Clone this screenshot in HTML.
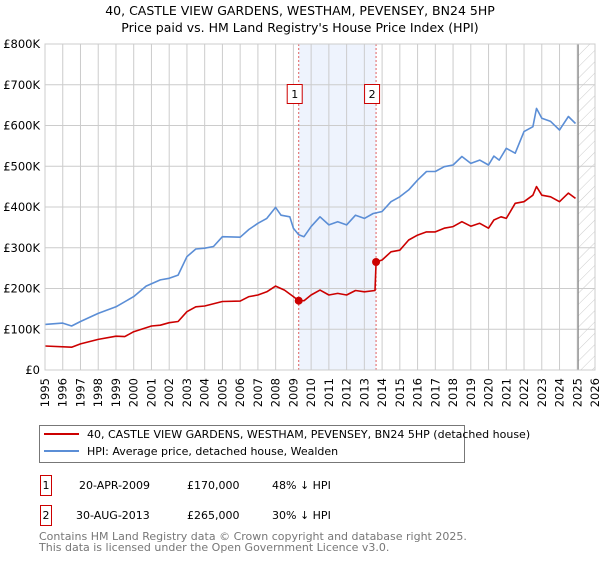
<!DOCTYPE html>
<html><head><meta charset="utf-8"><style>
body{margin:0;background:#fff;font-family:"Liberation Sans","DejaVu Sans",sans-serif;}
svg text{font-family:"DejaVu Sans","Liberation Sans",sans-serif;}
</style></head><body>
<svg id="c" width="600" height="560" xmlns="http://www.w3.org/2000/svg">
<defs><pattern id="hatch" width="8" height="8" patternUnits="userSpaceOnUse" patternTransform="rotate(45)"><line x1="0" y1="0" x2="0" y2="8" stroke="#ccc" stroke-width="1"/></pattern></defs>
<text x="300" y="15" text-anchor="middle" font-size="12.5">40, CASTLE VIEW GARDENS, WESTHAM, PEVENSEY, BN24 5HP</text>
<text x="300" y="32" text-anchor="middle" font-size="12.5">Price paid vs. HM Land Registry's House Price Index (HPI)</text>
<g id="plot"></g>
<g>
<rect x="39.5" y="425.5" width="425" height="37" fill="#fff" stroke="#777"/>
<line x1="44" y1="434" x2="79" y2="434" stroke="#cc0000" stroke-width="2"/>
<text x="87" y="438" font-size="11">40, CASTLE VIEW GARDENS, WESTHAM, PEVENSEY, BN24 5HP (detached house)</text>
<line x1="44" y1="451" x2="79" y2="451" stroke="#5b8ed6" stroke-width="2"/>
<text x="87" y="455" font-size="11">HPI: Average price, detached house, Wealden</text>
</g>
<g font-size="11">
<rect x="40.5" y="475.5" width="11" height="20" fill="#fff" stroke="#cc0000"/>
<text x="46" y="489" text-anchor="middle">1</text>
<text x="79" y="489">20-APR-2009</text>
<text x="187" y="489">£170,000</text>
<text x="272" y="489">48% ↓ HPI</text>
<rect x="40.5" y="505.5" width="11" height="20" fill="#fff" stroke="#cc0000"/>
<text x="46" y="519" text-anchor="middle">2</text>
<text x="76" y="519">30-AUG-2013</text>
<text x="187" y="519">£265,000</text>
<text x="272" y="519">30% ↓ HPI</text>
</g>
<text x="39" y="540" font-size="11" fill="#777">Contains HM Land Registry data © Crown copyright and database right 2025.</text>
<text x="39" y="551" font-size="11" fill="#777">This data is licensed under the Open Government Licence v3.0.</text>
</svg>
<script>
const hpiYears=[1995,1996,1996.5,1997,1998,1999,2000,2000.7,2001.5,2002,2002.5,2003,2003.5,2004,2004.5,2005,2006,2006.5,2007,2007.5,2008,2008.3,2008.8,2009,2009.3,2009.6,2010,2010.5,2011,2011.5,2012,2012.5,2013,2013.5,2014,2014.5,2015,2015.5,2016,2016.5,2017,2017.5,2018,2018.5,2019,2019.5,2020,2020.3,2020.6,2021,2021.5,2022,2022.5,2022.7,2023,2023.5,2024,2024.5,2024.9];
const hpiValues=[112,115,108,119,139,155,180,206,221,225,233,278,297,299,303,327,326,345,360,372,399,380,376,348,332,327,352,376,356,364,356,380,372,384,389,413,425,442,466,487,487,499,503,524,507,515,503,525,515,544,532,585,597,642,618,610,589,622,605];
const propYears=[1995,1996.5,1997,1998,1999,1999.5,2000,2001,2001.5,2002,2002.5,2003,2003.5,2004,2005,2006,2006.5,2007,2007.5,2008,2008.5,2009,2009.3,2009.6,2010,2010.5,2011,2011.5,2012,2012.5,2013,2013.6,2013.66,2014,2014.5,2015,2015.5,2016,2016.5,2017,2017.5,2018,2018.5,2019,2019.5,2020,2020.3,2020.7,2021,2021.5,2022,2022.5,2022.7,2023,2023.5,2024,2024.5,2024.9];
const propValues=[59,56,64,75,83,82,94,108,110,116,119,143,155,157,168,169,180,184,192,206,196,180,170,170,184,196,184,188,184,195,192,195,265,270,290,294,319,331,339,339,348,352,364,353,360,348,368,376,372,409,413,429,450,429,425,413,434,421];
const saleYears=[2009.3,2013.66];
const saleValues=[170,265];
const saleLabels=["1","2"];
const yTicks=[0,100,200,300,400,500,600,700,800];
const yTickLabels=["£0","£100K","£200K","£300K","£400K","£500K","£600K","£700K","£800K"];
const xTicks=[1995,1996,1997,1998,1999,2000,2001,2002,2003,2004,2005,2006,2007,2008,2009,2010,2011,2012,2013,2014,2015,2016,2017,2018,2019,2020,2021,2022,2023,2024,2025,2026];
const dataEnd=2025.05;

const L=45,R=595,T=44,B=370,X0=1995,X1=2026,Y1=800;
const xs=v=>L+(v-X0)/(X1-X0)*(R-L);
const ys=v=>B-v/Y1*(B-T);
const NS="http://www.w3.org/2000/svg";
const g=document.getElementById('plot');
function mk(tag,attrs,parent){const e=document.createElementNS(NS,tag);for(const k in attrs)e.setAttribute(k,attrs[k]);(parent||g).appendChild(e);return e;}

let e=mk('rect',{x:xs(saleYears[0]),y:T,width:xs(saleYears[1])-xs(saleYears[0]),height:B-T,fill:'#eef3fd'});


e=mk('rect',{x:xs(dataEnd),y:T,width:R-xs(dataEnd),height:B-T,fill:'url(#hatch)'});



xTicks.forEach((t,i)=>{
  const l=mk('line',{x1:xs(t),x2:xs(t),y1:T,y2:B,stroke:'#ccc','stroke-width':1});
  
  
  const tx=mk('text',{x:0,y:0,'font-size':11.5,'text-anchor':'end',transform:`translate(${xs(t)+4},${B+8}) rotate(-90)`});
  tx.textContent=t;
  
  
});
yTicks.forEach((t,i)=>{
  const l=mk('line',{x1:L,x2:R,y1:ys(t),y2:ys(t),stroke:'#ccc','stroke-width':1});
  
  
  const tx=mk('text',{x:L-5,y:ys(t)+4,'font-size':11.5,'text-anchor':'end'});
  tx.textContent=yTickLabels[i];
  
  
});
e=mk('line',{x1:xs(dataEnd),x2:xs(dataEnd),y1:T,y2:B,stroke:'#888','stroke-width':1.2});



saleYears.forEach((s,i)=>{
  const l=mk('line',{x1:xs(s),x2:xs(s),y1:T,y2:B,stroke:'#e06060','stroke-width':1,'stroke-dasharray':'2,2'});
  
  
});

function path(xsArr,vsArr,col,name){
  const d=xsArr.map((x,i)=>(i?'L':'M')+xs(x).toFixed(1)+','+ys(vsArr[i]).toFixed(1)).join('');
  const p=mk('path',{d,fill:'none',stroke:col,'stroke-width':1.6,'stroke-linejoin':'round'});
  
  
}
path(hpiYears,hpiValues,'#5b8ed6','hpi-line');
path(propYears,propValues,'#cc0000','property-price-line');

saleYears.forEach((s,i)=>{
  const c=mk('circle',{cx:xs(s),cy:ys(saleValues[i]),r:4,fill:'#cc0000'});
  
  
  const r=mk('rect',{x:xs(s)-11.5,y:84.5,width:15,height:19,fill:'#fff',stroke:'#cc0000'});
  
  
  const t=mk('text',{x:xs(s)-4,y:98,'font-size':11,'text-anchor':'middle'});
  t.textContent=saleLabels[i];
  
  
});
e=mk('rect',{x:L,y:T,width:R-L,height:B-T,fill:'none',stroke:'#ccc'});


</script>
</body></html>
